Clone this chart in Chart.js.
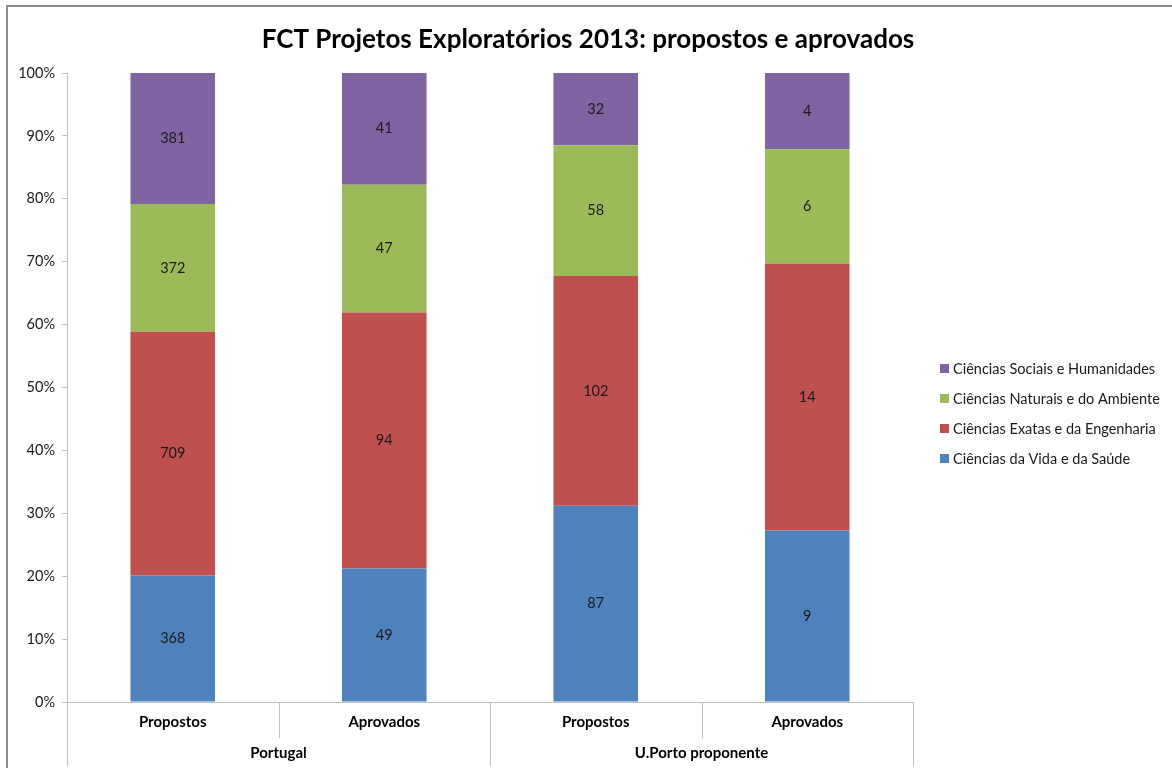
<!DOCTYPE html>
<html>
<head>
<meta charset="utf-8">
<script src="https://cdn.jsdelivr.net/npm/chart.js@4"></script>
<style>
  html, body { margin: 0; padding: 0; background: #fff; }
  #wrap { position: relative; width: 1172px; height: 768px; overflow: hidden; background: #fff; }
  #frame { position: absolute; left: 6px; top: 5px; width: 1200px; height: 800px; border: 2px solid #8c8c8c; box-sizing: border-box; }
  canvas { position: absolute; left: 0; top: 0; }
</style>
</head>
<body>
<div id="wrap">
  <div id="frame"></div>
  <canvas id="c" width="1172" height="768"></canvas>
</div>
<script>
const chartTitle = 'FCT Projetos Exploratórios 2013: propostos e aprovados';
const groups = ['Portugal', 'U.Porto proponente'];
const categories = ['Propostos', 'Aprovados', 'Propostos', 'Aprovados'];
const yTicks = [0, 10, 20, 30, 40, 50, 60, 70, 80, 90, 100];
const seriesNames = ['Ciências da Vida e da Saúde', 'Ciências Exatas e da Engenharia', 'Ciências Naturais e do Ambiente', 'Ciências Sociais e Humanidades'];
const vidaSaude = [368, 49, 87, 9];
const exatasEngenharia = [709, 94, 102, 14];
const naturaisAmbiente = [372, 47, 58, 6];
const sociaisHumanidades = [381, 41, 32, 4];
const colors = ['#4F81BD', '#C0504D', '#9BBB59', '#8064A2'];

const rawSeries = [vidaSaude, exatasEngenharia, naturaisAmbiente, sociaisHumanidades];
const totals = categories.map((_, i) => rawSeries.reduce((s, arr) => s + arr[i], 0));
const FONT = 'Lato, "Open Sans", sans-serif';

const datasets = rawSeries.map((arr, k) => ({
  label: seriesNames[k],
  data: arr.map((v, i) => v / totals[i] * 100),
  raw: arr,
  backgroundColor: colors[k],
  borderWidth: 0,
  categoryPercentage: 0.8,
  barPercentage: 0.5
}));

const decor = {
  id: 'decor',
  afterDraw(chart) {
    const ctx = chart.ctx;
    const xs = chart.scales.x;
    const area = chart.chartArea;
    ctx.save();
    // Title
    ctx.fillStyle = '#000';
    ctx.font = 'bold 26px ' + FONT;
    ctx.textAlign = 'center';
    ctx.textBaseline = 'middle';
    ctx.fillText(chartTitle, 588, 40);

    // Data labels
    ctx.font = '14.5px ' + FONT;
    ctx.fillStyle = '#1a1a1a';
    chart.data.datasets.forEach((ds, di) => {
      const meta = chart.getDatasetMeta(di);
      meta.data.forEach((el, i) => {
        ctx.fillText(String(ds.raw[i]), el.x, (el.y + el.base) / 2);
      });
    });

    // Multi-level category axis
    const step = (xs.getPixelForValue(1) - xs.getPixelForValue(0));
    const y0 = area.bottom;
    ctx.strokeStyle = '#bfbfbf';
    ctx.lineWidth = 1;
    for (let i = 0; i <= categories.length; i++) {
      const x = Math.round(xs.getPixelForValue(0) - step / 2 + i * step) + 0.5;
      const long = (i % 2 === 0);
      ctx.beginPath();
      ctx.moveTo(x, y0);
      ctx.lineTo(x, long ? 766 : 738);
      ctx.stroke();
    }
    ctx.font = 'bold 15px ' + FONT;
    ctx.fillStyle = '#000';
    categories.forEach((c, i) => {
      ctx.fillText(c, xs.getPixelForValue(i), 722);
    });
    groups.forEach((g, gi) => {
      const x = (xs.getPixelForValue(gi * 2) + xs.getPixelForValue(gi * 2 + 1)) / 2;
      ctx.fillText(g, x, 753);
    });

    // Legend (reversed order)
    ctx.font = '14.5px ' + FONT;
    ctx.textAlign = 'left';
    const order = [3, 2, 1, 0];
    order.forEach((k, r) => {
      const y = 369 + r * 30;
      ctx.fillStyle = colors[k];
      ctx.fillRect(940, y - 5, 9, 9);
      ctx.fillStyle = '#1a1a1a';
      ctx.fillText(seriesNames[k], 953, y);
    });
    ctx.restore();
  }
};

new Chart(document.getElementById('c'), {
  type: 'bar',
  data: { labels: categories, datasets },
  options: {
    responsive: false,
    animation: false,
    layout: { padding: { top: 73, bottom: 66, left: 0, right: 259 } },
    plugins: { legend: { display: false }, tooltip: { enabled: false }, title: { display: false } },
    scales: {
      x: {
        stacked: true,
        ticks: { display: false },
        grid: { display: false },
        border: { display: true, color: '#bfbfbf' },
        afterFit(s) { s.height = 0; }
      },
      y: {
        stacked: true,
        min: 0, max: 100,
        afterBuildTicks(s) { s.ticks = yTicks.map(v => ({ value: v })); },
        ticks: {
          callback: v => v + '%',
          color: '#1a1a1a',
          font: { family: FONT, size: 14.5 },
          padding: 7
        },
        grid: { drawOnChartArea: false, tickLength: 5, color: '#bfbfbf' },
        border: { display: true, color: '#bfbfbf' },
        afterFit(s) { s.width = 67; }
      }
    }
  },
  plugins: [decor]
});
</script>
</body>
</html>
